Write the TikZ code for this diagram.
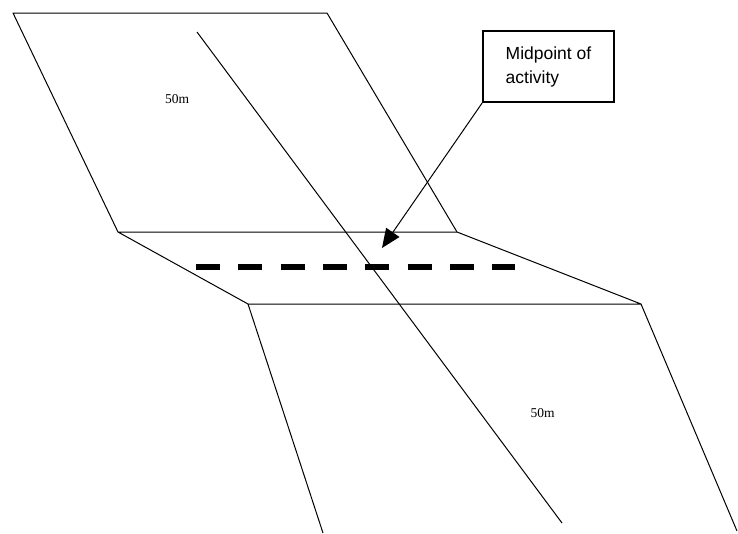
\documentclass[tikz,border=0pt]{standalone}
\usepackage{fontspec}
\setmainfont{Liberation Serif}
\newfontfamily\arialfont{Liberation Sans}
\usepackage{tikz}
\usetikzlibrary{positioning}
\usetikzlibrary{shapes,arrows,calc,arrows.meta}

\begin{document}
\begin{tikzpicture}[x=1pt,y=-1pt,line width=1pt,
    edge/.style={draw,line join=round},
    label50/.style={font=\fontsize{13.5}{15}\selectfont},
    callout/.style={draw,line width=1.2pt,minimum width=131pt,minimum height=71pt,
        align=left,font=\arialfont\fontsize{17.5}{24}\selectfont}]
   \useasboundingbox (0,0) rectangle (738,533);
   % corners of the slope
   \coordinate (t_l) at (13,13);
   \coordinate (t_r) at (327,13);
   \coordinate (m_l) at (118,232);
   \coordinate (m_r) at (457,232);
   \coordinate (b_l) at (248,304);
   \coordinate (b_r) at (641,304);
   \coordinate (e_l) at (323,533);
   \coordinate (e_r) at (737,531);
   \coordinate (d_s) at (197,32);
   \coordinate (d_e) at (562,523);
   \coordinate (h_s) at (196,267);
   \coordinate (h_e) at (515,267);
   \path[edge] (m_l) -- (t_l) -- (t_r) -- (m_r);
   \path[edge] (m_l) -- (m_r) -- (b_r) -- (b_l) -- cycle;
   \path[edge] (b_l) -- (e_l);
   \path[edge] (b_r) -- (e_r);
   \path[edge] (d_s) -- (d_e);
   \draw[line width=5.5pt,dash pattern=on 24pt off 18.3pt] (h_s) -- (h_e);
   \node[label50] (w_up) at (177,99) {50m};
   \node[label50] (w_dn) at (542.5,413) {50m};
   \node[callout] (mid) at (548.5,66.5) {Midpoint of\\activity};
   \coordinate (tip) at (382,248);
   \draw[-{Triangle[length=19pt,width=16pt]}] (mid.south west) -- (tip);
\end{tikzpicture}
\end{document}
